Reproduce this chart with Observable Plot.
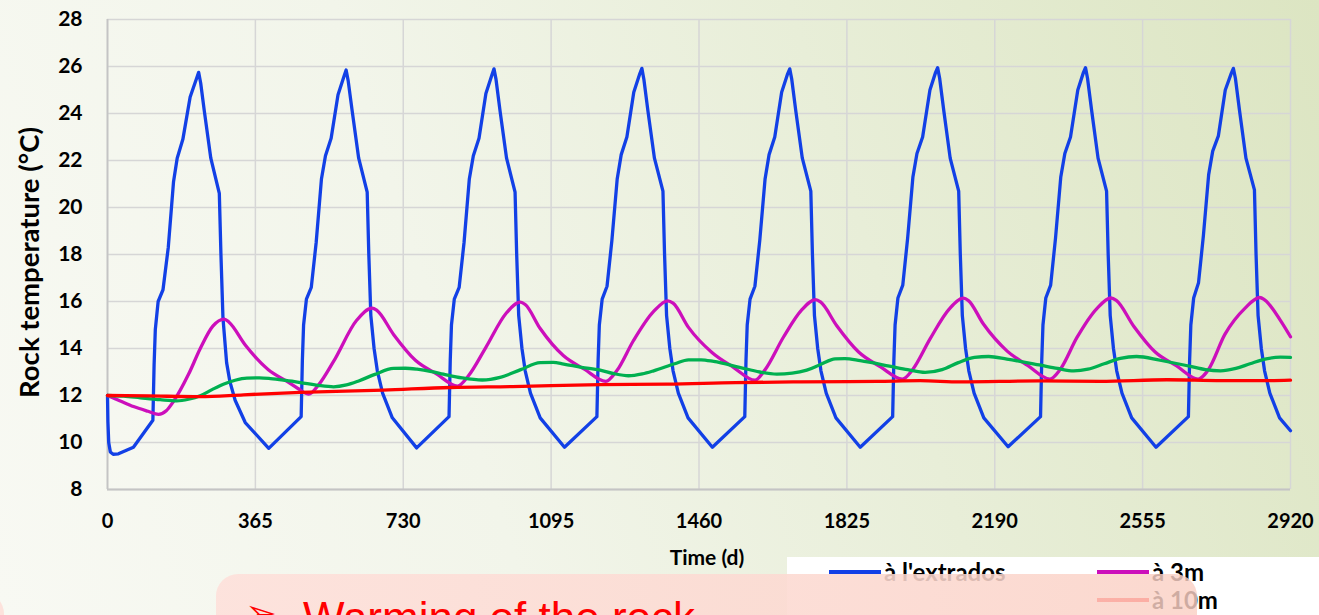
<!DOCTYPE html>
<html>
<head>
<meta charset="utf-8">
<script src="https://cdn.jsdelivr.net/npm/d3@7"></script>
<script src="https://cdn.jsdelivr.net/npm/@observablehq/plot@0.6"></script>
<style>
  html, body { margin: 0; padding: 0; }
  body {
    width: 1319px; height: 615px; overflow: hidden;
    background: linear-gradient(72deg, #f8f9f3 0%, #f2f5ea 35%, #e8eed8 65%, #dce5c2 100%);
    font-family: Lato, "Open Sans", sans-serif;
  }
  #wrap { position: relative; width: 1319px; height: 615px; overflow: hidden; }
  #chart { position: absolute; left: 0; top: 0; }
  #legend { position: absolute; left: 787px; top: 557px; width: 532px; height: 58px; background: #ffffff; }
  .lg { position: absolute; display: flex; align-items: center; height: 26px; font-weight: bold; font-size: 24px; line-height: 26px; color: #000; white-space: nowrap; }
  .lg .sw { display: inline-block; width: 52px; height: 4px; margin-right: 3px; }
  #pink {
    position: absolute; left: 216px; top: 574px; width: 981px; height: 90px;
    border-radius: 22px;
    background: linear-gradient(90deg, rgba(253,226,220,0.97) 0%, rgba(252,218,210,0.9) 60%, rgba(250,208,196,0.82) 100%);
  }
  #pink2 {
    position: absolute; left: -300px; top: 592px; width: 304px; height: 80px;
    border-radius: 22px; background: rgba(253,224,218,0.95);
  }
  #arrow { position: absolute; left: 245px; top: 594px; font-family: "DejaVu Sans", sans-serif; font-size: 38px; line-height: 38px; color: #ff0000; }
  #msg { position: absolute; left: 303px; top: 596px; font-family: "Liberation Sans", Arial, sans-serif; font-size: 44px; line-height: 44px; color: #ff0000; white-space: nowrap; }
</style>
</head>
<body>
<div id="wrap">
  <div id="chart"></div>
  <div id="legend"></div>
  <div id="pink2"></div>
  <div id="pink"></div>
  <div id="arrow">➢</div>
  <div id="msg">Warming of the rock</div>
</div>
<script>
// ---- tick labels ----
const xTicks = [0, 365, 730, 1095, 1460, 1825, 2190, 2555, 2920];
const yTicks = [8, 10, 12, 14, 16, 18, 20, 22, 24, 26, 28];

// ---- series names / colours ----
const seriesNames = ["à l'extrados", "à 3m", "à 10m"];
const seriesColors = ["#1240e6", "#cc0fbb", "#ff0000"];
const greenColor = "#00b050";

// ---- series values: [day, rock temperature °C] ----
const extrados = [
  [0,12.0],[1,10.9],[3,10.0],[7,9.6],[14,9.5],[27,9.52],[64,9.8],[112,10.95],[115,13.3],[118,14.8],[125,16.0],[137,16.5],[150,18.3],[163,21.1],[172,22.1],[186,22.9],[204,24.7],[220,25.5],[225,25.75],[230,25.3],[239,24.1],[255,22.1],[276,20.6],[280,18.0],[285,15.3],[294,13.4],[302,12.6],[315,11.8],[340,10.85],
  [398,9.75],[478,11.1],[481,13.5],[484,15.0],[491,16.1],[503,16.6],[515,18.5],[528,21.2],[538,22.2],[552,22.95],[569,24.8],[584,25.6],[589,25.85],[594,25.4],[604,24.1],[620,22.1],[641,20.65],[645,18.0],[650,15.4],[658,14.0],[666,13.05],[679,12.1],[703,11.05],
  [763,9.77],[843,11.1],[846,13.5],[849,15.0],[856,16.1],[868,16.6],[880,18.5],[893,21.2],[903,22.2],[917,22.95],[934,24.85],[949,25.65],[954,25.9],[959,25.45],[969,24.1],[985,22.1],[1006,20.65],[1010,18.0],[1015,15.4],[1023,14.0],[1031,13.05],[1044,12.1],[1068,11.05],
  [1128,9.8],[1208,11.1],[1211,13.5],[1214,15.0],[1221,16.1],[1233,16.65],[1245,18.6],[1258,21.2],[1268,22.25],[1282,23.0],[1299,24.9],[1314,25.7],[1319,25.92],[1324,25.45],[1334,24.1],[1350,22.1],[1371,20.7],[1375,18.0],[1380,15.4],[1388,14.0],[1396,13.05],[1409,12.1],[1433,11.05],
  [1493,9.8],[1573,11.1],[1576,13.5],[1579,15.0],[1586,16.1],[1598,16.65],[1610,18.6],[1623,21.2],[1633,22.25],[1647,23.0],[1664,24.9],[1679,25.7],[1684,25.9],[1689,25.45],[1699,24.1],[1715,22.1],[1736,20.7],[1740,18.0],[1745,15.4],[1753,14.0],[1761,13.05],[1774,12.1],[1798,11.05],
  [1858,9.8],[1938,11.1],[1941,13.5],[1944,15.0],[1951,16.15],[1963,16.7],[1975,18.7],[1988,21.3],[1998,22.3],[2012,23.0],[2030,25.0],[2044,25.75],[2049,25.95],[2054,25.5],[2064,24.15],[2080,22.1],[2101,20.7],[2105,18.0],[2110,15.4],[2118,14.0],[2126,13.05],[2139,12.1],[2163,11.05],
  [2223,9.82],[2303,11.1],[2306,13.5],[2309,15.0],[2316,16.15],[2328,16.7],[2340,18.7],[2353,21.3],[2363,22.3],[2377,23.0],[2395,25.0],[2409,25.75],[2414,25.95],[2419,25.5],[2429,24.15],[2445,22.1],[2466,20.7],[2470,18.0],[2475,15.4],[2483,14.0],[2491,13.05],[2504,12.1],[2528,11.05],
  [2588,9.8],[2668,11.1],[2671,13.5],[2674,15.0],[2681,16.15],[2693,16.8],[2705,18.8],[2718,21.4],[2728,22.4],[2742,23.05],[2759,25.0],[2774,25.72],[2779,25.92],[2784,25.5],[2794,24.15],[2810,22.1],[2831,20.75],[2835,18.0],[2840,15.4],[2848,14.0],[2856,13.05],[2869,12.1],[2893,11.05],[2920,10.5]
];

const at3m = [
  [0,12.0],[30,11.78],[64,11.53],[100,11.33],[126,11.2],[145,11.35],[163,11.75],[200,12.9],[229,14.0],[260,14.95],[288,15.25],
  [300,15.12],[340,14.15],[397,13.1],[443,12.6],[470,12.3],[497,12.06],
  [521,12.45],[558,13.45],[615,15.2],[653,15.72],
  [665,15.62],[706,14.6],[760,13.5],[812,12.92],[864,12.4],
  [890,12.82],[934,14.05],[984,15.5],[1019,15.97],
  [1031,15.87],[1068,14.85],[1125,13.7],[1177,13.12],[1230,12.6],
  [1257,13.05],[1298,14.33],[1348,15.58],[1383,16.03],
  [1396,15.93],[1434,14.9],[1492,13.83],[1545,13.2],[1598,12.65],
  [1622,13.07],[1669,14.5],[1713,15.63],[1748,16.08],
  [1760,15.98],[1800,14.97],[1854,13.85],[1908,13.22],[1962,12.7],
  [1988,13.12],[2030,14.4],[2078,15.69],[2113,16.14],
  [2125,16.04],[2162,15.04],[2220,13.9],[2272,13.27],[2326,12.7],
  [2352,13.12],[2393,14.47],[2442,15.7],[2477,16.15],
  [2490,16.05],[2533,14.95],[2586,13.85],[2638,13.27],[2692,12.7],
  [2718,13.12],[2758,14.6],[2808,15.72],[2844,16.17],
  [2856,16.07],[2895,15.2],[2920,14.5]
];

const greenSeries = [
  [0,12.0],[40,11.97],[81,11.9],[130,11.82],[171,11.77],[200,11.84],[229,11.99],[258,12.25],[286,12.48],[315,12.65],[344,12.74],[375,12.75],[402,12.72],[440,12.64],[476,12.55],[520,12.43],[558,12.37],
  [590,12.45],[620,12.62],[660,12.9],[706,13.15],[735,13.16],[764,13.12],[800,13.02],[829,12.91],[875,12.75],[925,12.66],
  [969,12.77],[1020,13.1],[1068,13.4],[1100,13.41],[1126,13.34],[1170,13.2],[1216,13.08],[1250,12.93],[1286,12.84],
  [1320,12.92],[1348,13.05],[1400,13.35],[1434,13.52],[1465,13.52],[1496,13.45],[1560,13.2],[1610,13.0],[1652,12.91],
  [1690,12.95],[1726,13.08],[1760,13.32],[1796,13.56],[1820,13.57],[1858,13.48],[1930,13.25],[1975,13.1],[2018,12.98],
  [2060,13.1],[2100,13.4],[2140,13.62],[2175,13.66],[2220,13.55],[2300,13.3],[2345,13.15],[2385,13.05],
  [2420,13.12],[2460,13.35],[2500,13.58],[2540,13.66],[2598,13.5],[2670,13.25],[2710,13.1],[2747,13.05],
  [2785,13.15],[2820,13.35],[2860,13.56],[2895,13.63],[2920,13.62]
];

const at10m = [
  [0,12.0],[100,11.98],[229,11.95],[336,12.03],[476,12.13],[681,12.23],[846,12.34],[1000,12.38],[1216,12.46],[1381,12.48],
  [1550,12.55],[1710,12.58],[1900,12.6],[2006,12.63],[2105,12.58],[2300,12.62],[2450,12.6],[2615,12.67],[2750,12.63],[2862,12.63],[2920,12.65]
];

// ---- chart ----
const lineOpts = (color, curve) => ({x: d => d[0], y: d => d[1], stroke: color, strokeWidth: 3.3, curve, strokeLinejoin: "round", strokeLinecap: "round"});

const chart = Plot.plot({
  width: 1319,
  height: 615,
  marginLeft: 107,
  marginRight: 29,
  marginTop: 19,
  marginBottom: 126,
  style: {background: "transparent", fontFamily: "Lato, 'Open Sans', sans-serif", color: "#000", overflow: "visible"},
  x: {domain: [0, 2920], label: null},
  y: {domain: [8, 28], label: null},
  marks: [
    Plot.gridX(xTicks, {stroke: "#d6d6d6", strokeOpacity: 1, strokeWidth: 1.5}),
    Plot.gridY(yTicks, {stroke: "#d6d6d6", strokeOpacity: 1, strokeWidth: 1.5}),
    Plot.ruleX([0], {stroke: "#c4c4c4", strokeWidth: 1.8}),
    Plot.ruleY([8], {stroke: "#c4c4c4", strokeWidth: 1.8}),
    Plot.axisX(xTicks, {tickSize: 0, tickPadding: 24, fontSize: 20, fontWeight: "bold", tickFormat: d3.format("d"), label: null}),
    Plot.axisY(yTicks, {tickSize: 0, tickPadding: 25, fontSize: 21, fontWeight: "bold", label: null}),
    Plot.line(extrados, lineOpts(seriesColors[0], "linear")),
    Plot.line(at3m, lineOpts(seriesColors[1], "monotone-x")),
    Plot.line(greenSeries, lineOpts(greenColor, "monotone-x")),
    Plot.line(at10m, lineOpts(seriesColors[2], "monotone-x")),
    Plot.text(["Rock temperature (°C)"], {frameAnchor: "left", dx: -77, dy: 8, rotate: -90, fontSize: 27.5, fontWeight: "bold", fill: "#000", textAnchor: "middle", lineAnchor: "middle"}),
    Plot.text(["Time (d)"], {frameAnchor: "bottom", dx: 8, dy: 69, fontSize: 21, fontWeight: "bold", fill: "#000", textAnchor: "middle", lineAnchor: "middle"})
  ]
});
document.getElementById("chart").appendChild(chart);

// ---- legend ----
const legendPos = [[42, 2], [310, 2], [310, 30]];
const legend = document.getElementById("legend");
seriesNames.forEach((name, i) => {
  const item = document.createElement("div");
  item.className = "lg";
  item.style.left = legendPos[i][0] + "px";
  item.style.top = legendPos[i][1] + "px";
  const sw = document.createElement("span");
  sw.className = "sw";
  sw.style.background = seriesColors[i];
  item.appendChild(sw);
  item.appendChild(document.createTextNode(name));
  legend.appendChild(item);
});
</script>
</body>
</html>
